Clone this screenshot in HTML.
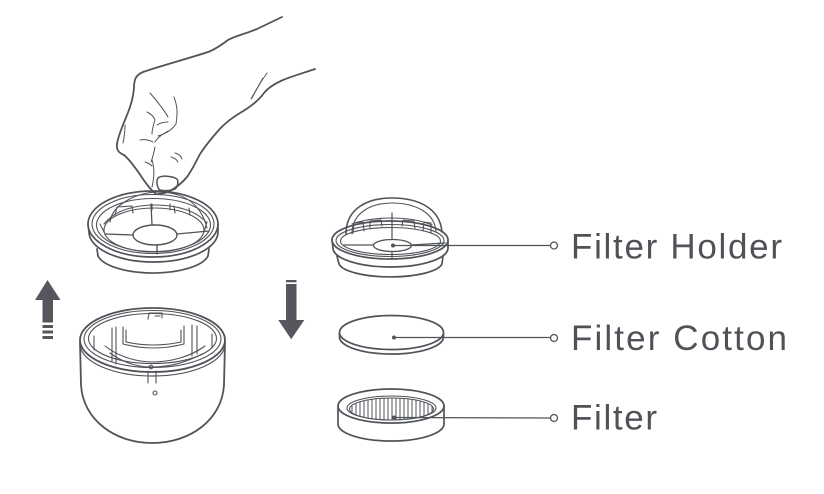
<!DOCTYPE html>
<html>
<head>
<meta charset="utf-8">
<style>
html,body{margin:0;padding:0;background:#fff;}
svg{display:block;}
</style>
</head>
<body>
<svg width="824" height="494" viewBox="0 0 824 494" xmlns="http://www.w3.org/2000/svg">
<defs>
<clipPath id="fgrid"><ellipse cx="391.5" cy="409" rx="42" ry="11"/></clipPath>
</defs>
<rect width="824" height="494" fill="#fff"/>

<g fill="none" stroke="#505358" stroke-linecap="round" stroke-linejoin="round">

<!-- ============ LEFT HOLDER (held by hand) ============ -->
<g stroke-width="1.7">
  <!-- skirt -->
  <path d="M97,249 L98,256 A56,21 0 0 0 208,256 L209,249" fill="#fff"/>
  <!-- rim band lower -->
  <path d="M88,224 L89,232 A64.5,30 0 0 0 218,232 L218,224" fill="#fff"/>
  <ellipse cx="153" cy="224" rx="65" ry="33" fill="#fff"/>
</g>
<g stroke-width="1.1">
  <ellipse cx="153" cy="224" rx="61" ry="29.5"/>
  <ellipse cx="153.5" cy="225" rx="57" ry="26.5"/>
  <ellipse cx="154" cy="230" rx="50" ry="22"/>
  <!-- dome arc -->
  <path d="M110,222 C112,205 135,193 157,192 C180,192 200,200 207,228"/>
  <path d="M104,224 C115,210 135,205 155,205 C175,205 195,210 206,222"/>
  <!-- tabs -->
  <path d="M115,215 L117,207 L132,206 L133,213"/>
  <path d="M152,204 L152,210 M170,204 L170,210"/>
  <path d="M174,206 L175,213 M189,208 L190,215"/>
  <path d="M100,224 L104,232 M207,222 L204,232"/>
  <!-- central oval and spokes -->
  <ellipse cx="155" cy="235" rx="22" ry="10" stroke-width="1.4"/>
  <path d="M105,234 L133,235 M177,234 L209,231 M152,225 L151,204 M157,245 L157,254" stroke-width="1.3"/>
</g>

<!-- ============ HAND ============ -->
<g stroke-width="1.8">
  <path d="M282,17 L257,29 C245,34 235,36 228,40 C220,46 214,50 208,52 C190,58 160,66 143,72 C136,75 134,79 134,88 C133,100 130,108 127,115 C123,125 118,136 117,144 C116,150 119,153 124,155 C130,160 137,170 143,179 C147,185 151,190 156,194"/>
  <path d="M315,69 C300,74 290,77 283,80 C274,84 268,88 264,93 C259,100 252,106 240,113 C230,119 224,124 218,131 C210,140 204,148 200,154 C196,162 192,170 187,177 C182,183 176,188 168,192 C164,193 161,194 158,194"/>
  <path d="M158,178 C162,175 172,176 177,179 C179,182 177,188 175,189 C170,191 163,191 160,190 C157,188 156,181 158,178 Z" stroke-width="1.5"/>
</g>
<g stroke-width="1">
  <path d="M267,73 C262,80 256,90 252,98"/>
  <path d="M263,78 C259,85 255,92 251,99"/>
  <path d="M150,93 C156,100 163,108 168,117"/>
  <path d="M174,97 C177,105 178,112 176,124 C172,130 165,134 158,136"/>
  <path d="M147,112 C151,114 154,117 155,120 C153,126 152,130 152,134"/>
  <path d="M157,125 C160,123 164,122 168,122"/>
  <path d="M140,140 C145,139 149,140 153,142"/>
  <path d="M155,142 C158,137 163,134 168,131"/>
  <path d="M155,147 C154,152 153,157 151,162"/>
  <path d="M152,160 C155,170 154,178 152,187"/>
  <path d="M145,162 C148,163 150,164 152,166"/>
  <path d="M171,157 C175,158 177,160 178,162"/>
  <path d="M175,153 C179,154 181,156 182,159"/>
  <path d="M125,125 C125,132 124,138 123,143"/>
</g>

<!-- ============ LOWER CONTAINER ============ -->
<g stroke-width="1.8">
  <path d="M80,342 L81,385 C83,420 115,443 152,443 C190,443 222,420 224,385 L225,342"/>
  <ellipse cx="152.5" cy="340" rx="72.5" ry="32"/>
  <path d="M80,344 A72.5,32 0 0 0 225,344" stroke-width="1.2"/>
</g>
<g stroke-width="1.1">
  <ellipse cx="152.5" cy="339" rx="68.5" ry="28.5"/>
  <ellipse cx="152.5" cy="338.5" rx="64" ry="25"/>
  <path d="M110,353 C125,364 140,367 152,367 C168,367 185,363 202,354"/>
  <path d="M105,346 C120,358 140,362 152,362 C170,362 190,357 205,346"/>
  <!-- window -->
  <path d="M123,327 L123,344 Q153,352 184,344 L184,326"/>
  <path d="M126,330 L126,342 Q153,348 181,342 L181,330"/>
  <!-- ribs -->
  <path d="M112,328 L112,362 M116,327 L116,364 M192,325 L192,356 M197,326 L197,354 M94,336 L94,350 M212,334 L212,348"/>
  <!-- latch -->
  <path d="M148,319 L149,313 L162,313 L162,318 M155,316 L160,316"/>
  <!-- notch and holes -->
  <path d="M148,371 L148,383 M156,371 L156,383"/>
  <circle cx="151" cy="367" r="1.8"/>
  <circle cx="155" cy="393" r="2"/>
</g>

<!-- ============ MIDDLE: FILTER HOLDER ============ -->
<g stroke-width="1.7">
  <path d="M337,256 L339,264 A52,15 0 0 0 442,264 L443,256" fill="#fff"/>
  <path d="M332,240 L333,248 A57.5,19 0 0 0 448,248 L448,240" fill="#fff"/>
  <ellipse cx="390" cy="240" rx="58" ry="19" fill="#fff"/>
</g>
<g stroke-width="1.1">
  <ellipse cx="390" cy="240.5" rx="54" ry="16"/>
  <ellipse cx="390.5" cy="241" rx="50" ry="13.5"/>
  <!-- tabs -->
  <path d="M353,233 L354,223 L363,222 L364,231"/>
  <path d="M370,228 L370,221 L381,220 L382,226"/>
  <path d="M402,226 L403,220 L414,221 L415,228"/>
  <path d="M423,231 L424,222 L431,223 L431,233"/>
  <path d="M352,224 C365,219 380,218 392,218 C405,218 420,220 432,225"/>
  <ellipse cx="392.5" cy="245.5" rx="19" ry="6" stroke-width="1.3"/>
  <path d="M344,245 L373,245 M411,245 L445,243 M392,213 L392,239 M392,252 L392,258" stroke-width="1.2"/>
</g>
<g stroke-width="1.6">
  <path d="M346,234 C346,208 368,198 392,198 C418,198 440,208 442,232"/>
  <path d="M352,234 C352,212 372,203 392,203 C414,203 435,212 436,232" stroke-width="1.1"/>
</g>

<!-- ============ MIDDLE: COTTON ============ -->
<g stroke-width="1.7">
  <path d="M339.5,333 L339.5,337 A52,17 0 0 0 443.5,337 L443.5,333" fill="#fff"/>
  <ellipse cx="391.5" cy="332.5" rx="52" ry="17" fill="#fff"/>
</g>

<!-- ============ MIDDLE: FILTER ============ -->
<g stroke-width="1.7">
  <path d="M338,406 L338,424 A53,17 0 0 0 444,424 L444,406" fill="#fff"/>
  <ellipse cx="391" cy="406" rx="53" ry="17" fill="#fff"/>
</g>
<g stroke-width="1.1">
  <ellipse cx="391.5" cy="408" rx="44.5" ry="12"/>
  <ellipse cx="391.5" cy="409" rx="42" ry="11"/>
  <g clip-path="url(#fgrid)" stroke-width="1">
    <path d="M352,396V424M356,396V424M360,396V424M364,396V424M368,396V424M372,396V424M376,396V424M380,396V424M384,396V424M388,396V424M392,396V424M396,396V424M400,396V424M404,396V424M408,396V424M412,396V424M416,396V424M420,396V424M424,396V424M428,396V424M432,396V424"/>
  </g>
</g>

<!-- ============ LEADERS ============ -->
<g stroke-width="1.3">
  <path d="M393,245.5 L550.5,245.5"/>
  <path d="M394,337.5 L550.5,337.5"/>
  <path d="M394,417.5 L550.5,418"/>
  <circle cx="554" cy="245.5" r="3.5" fill="#fff"/>
  <circle cx="554" cy="338" r="3.5" fill="#fff"/>
  <circle cx="554" cy="418" r="3.5" fill="#fff"/>
</g>
</g>
<g fill="#505358">
  <circle cx="393" cy="245.5" r="2"/>
  <circle cx="394" cy="337.5" r="2"/>
  <circle cx="394" cy="417.5" r="2"/>
</g>

<!-- ============ ARROWS ============ -->
<g fill="#55575c">
  <polygon points="47.5,280 60.5,300 53,300 53,322.5 42.5,322.5 42.5,300 35,300"/>
  <rect x="42.5" y="325" width="10.5" height="3"/>
  <rect x="42.5" y="330.5" width="10.5" height="3"/>
  <rect x="42.5" y="336" width="10.5" height="3"/>

  <rect x="286" y="280" width="10.5" height="2.3"/>
  <polygon points="286,284 296.5,284 296.5,320 304.3,320 291.2,339.3 278.3,320 286,320"/>
</g>

<!-- ============ LABELS ============ -->
<g font-family="'Liberation Sans', Arial, sans-serif" font-size="35" fill="#4f5257">
  <text x="571" y="258.5" textLength="211" lengthAdjust="spacing">Filter Holder</text>
  <text x="571" y="350" textLength="216" lengthAdjust="spacing">Filter Cotton</text>
  <text x="571" y="429.5" textLength="86" lengthAdjust="spacing">Filter</text>
</g>
</svg>
</body>
</html>
